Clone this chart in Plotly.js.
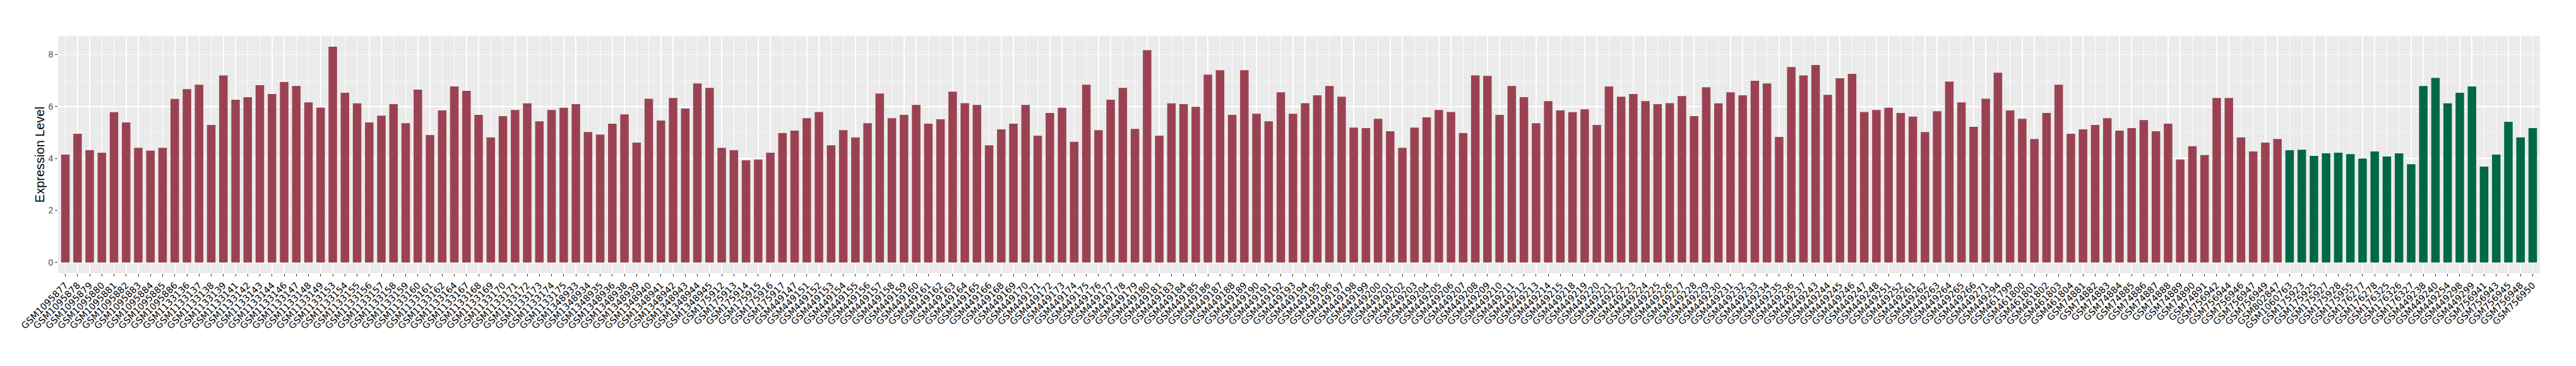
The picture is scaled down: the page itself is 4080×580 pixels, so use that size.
<!DOCTYPE html>
<html>
<head>
<meta charset="utf-8">
<script src="https://cdn.plot.ly/plotly-3.0.1.min.js"></script>
<style>html,body{margin:0;padding:0;background:#fff;}#chart{width:4080px;height:580px;}</style>
</head>
<body>
<div id="chart"></div>
<script>
// Tumor samples (red)
const tumorSamples = [
"GSM1095877","GSM1095878","GSM1095879","GSM1095880","GSM1095881","GSM1095882","GSM1095883","GSM1095884","GSM1095885","GSM1095886",
"GSM1133136","GSM1133137","GSM1133138","GSM1133139","GSM1133141","GSM1133142","GSM1133143","GSM1133144","GSM1133146","GSM1133147",
"GSM1133148","GSM1133149","GSM1133153","GSM1133154","GSM1133155","GSM1133156","GSM1133157","GSM1133158","GSM1133159","GSM1133160",
"GSM1133161","GSM1133162","GSM1133164","GSM1133167","GSM1133168","GSM1133169","GSM1133170","GSM1133171","GSM1133172","GSM1133173",
"GSM1133174","GSM1133175",
"GSM1348933","GSM1348934","GSM1348935","GSM1348936","GSM1348938","GSM1348939","GSM1348940","GSM1348941","GSM1348942","GSM1348943",
"GSM1348944","GSM1348945",
"GSM175912","GSM175913","GSM175914","GSM175915","GSM175916","GSM175917",
"GSM449147","GSM449151","GSM449152","GSM449153","GSM449154","GSM449155","GSM449156","GSM449157","GSM449158","GSM449159",
"GSM449160","GSM449161","GSM449162","GSM449163","GSM449164","GSM449165","GSM449166","GSM449168","GSM449169","GSM449170",
"GSM449171","GSM449172","GSM449173","GSM449174","GSM449175","GSM449176","GSM449177","GSM449178","GSM449179","GSM449180",
"GSM449181","GSM449183","GSM449184","GSM449185","GSM449186","GSM449187","GSM449188","GSM449189","GSM449190","GSM449191",
"GSM449192","GSM449193","GSM449194","GSM449195","GSM449196","GSM449197","GSM449198","GSM449199","GSM449200","GSM449201",
"GSM449202","GSM449203","GSM449204","GSM449205","GSM449206","GSM449207","GSM449208","GSM449209","GSM449210","GSM449211",
"GSM449212","GSM449213","GSM449214","GSM449215","GSM449218","GSM449219","GSM449220","GSM449221","GSM449222","GSM449223",
"GSM449224","GSM449225","GSM449226","GSM449227","GSM449228","GSM449229","GSM449230","GSM449231","GSM449232","GSM449233",
"GSM449234","GSM449235","GSM449236","GSM449237","GSM449243","GSM449244","GSM449245","GSM449246","GSM449247","GSM449248",
"GSM449251","GSM449252","GSM449261","GSM449262","GSM449263","GSM449264","GSM449265","GSM449266","GSM449271","GSM449294",
"GSM461799","GSM461800","GSM461801","GSM461802","GSM461803","GSM461804",
"GSM74881","GSM74882","GSM74883","GSM74884","GSM74885","GSM74886","GSM74887","GSM74888","GSM74889","GSM74890","GSM74891",
"GSM756942","GSM756944","GSM756946","GSM756947","GSM756949","GSM802847"
];
const tumorValues = [
4.15,4.95,4.32,4.22,5.78,5.39,4.41,4.30,4.41,6.29,
6.67,6.84,5.29,7.20,6.26,6.36,6.82,6.48,6.94,6.79,
6.16,5.96,8.30,6.53,6.12,5.39,5.65,6.09,5.36,6.65,
4.90,5.85,6.77,6.60,5.68,4.81,5.63,5.87,6.12,5.43,
5.87,5.95,
6.09,5.02,4.92,5.34,5.70,4.61,6.30,5.46,6.33,5.92,
6.89,6.72,
4.41,4.32,3.93,3.96,4.22,4.98,
5.07,5.55,5.79,4.51,5.09,4.81,5.36,6.50,5.55,5.68,
6.06,5.34,5.51,6.57,6.13,6.06,4.51,5.12,5.34,6.06,
4.88,5.75,5.95,4.64,6.84,5.09,6.26,6.72,5.14,8.17,
4.88,6.12,6.09,5.99,7.23,7.40,5.68,7.40,5.72,5.43,
6.55,5.72,6.13,6.43,6.79,6.38,5.19,5.17,5.53,5.05,
4.41,5.19,5.58,5.87,5.79,4.98,7.20,7.18,5.68,6.79,
6.36,5.36,6.21,5.85,5.78,5.89,5.29,6.77,6.38,6.48,
6.21,6.09,6.13,6.40,5.63,6.74,6.12,6.55,6.43,6.99,
6.89,4.83,7.52,7.20,7.60,6.45,7.09,7.26,5.79,5.87,
5.95,5.75,5.61,5.02,5.82,6.96,6.16,5.22,6.30,7.30,
5.85,5.53,4.75,5.75,6.84,4.95,
5.12,5.29,5.55,5.07,5.17,5.48,5.05,5.34,3.96,4.47,4.13,
6.33,6.33,4.81,4.27,4.61,4.75
];
// Normal samples (green)
const normalSamples = [
"GSM1060763","GSM175923","GSM175925","GSM175927","GSM175928","GSM175955","GSM176277","GSM176278","GSM176325","GSM176326",
"GSM176327","GSM449238","GSM449240","GSM449254","GSM449298","GSM449299","GSM756941","GSM756943","GSM756945","GSM756948",
"GSM756950"
];
const normalValues = [
4.32,4.34,4.10,4.20,4.22,4.17,4.00,4.27,4.08,4.20,
3.78,6.79,7.10,6.12,6.53,6.77,3.69,4.15,5.41,4.81,
5.17
];
const yTickVals = [0,2,4,6,8];
const yTickText = ["0","2","4","6","8"];

const allSamples = tumorSamples.concat(normalSamples);
const nCat = allSamples.length;

const traces = [
  {type:'bar', x: tumorSamples, y: tumorValues, marker:{color:'#9B4252'}, width:0.7, hoverinfo:'x+y', showlegend:false},
  {type:'bar', x: normalSamples, y: normalValues, marker:{color:'#006847'}, width:0.7, hoverinfo:'x+y', showlegend:false}
];
const ymax = Math.max(...tumorValues, ...normalValues);
const layout = {
  width:4080, height:580,
  margin:{l:92.4, r:57, t:56.7, b:146.7},
  paper_bgcolor:'#ffffff', plot_bgcolor:'#EBEBEB',
  barmode:'overlay',
  showlegend:false,
  xaxis:{
    type:'category', categoryorder:'array', categoryarray: allSamples,
    range:[-0.6, nCat-1+0.6], autorange:false,
    tickmode:'linear', tick0:0, dtick:1,
    tickangle:-45,
    tickfont:{family:'"DejaVu Sans", sans-serif', size:14.5, color:'#000000'},
    ticks:'outside', ticklen:4, tickwidth:1, tickcolor:'#333333',
    showgrid:true, gridcolor:'#ffffff', gridwidth:1.4,
    zeroline:false, showline:false, automargin:false, fixedrange:true
  },
  yaxis:{
    range:[-0.05*ymax, ymax*1.05], autorange:false,
    tickmode:'array', tickvals:yTickVals, ticktext:yTickText,
    tickfont:{family:'"Liberation Sans", Arial, sans-serif', size:14, color:'#4D4D4D'},
    ticks:'outside', ticklen:4, tickwidth:1, tickcolor:'#333333',
    showgrid:true, gridcolor:'#ffffff', gridwidth:1.6,
    minor:{dtick:1, tick0:0, showgrid:true, gridcolor:'#F6F6F6', gridwidth:0.8},
    zeroline:false, showline:false, automargin:false, fixedrange:true,
    title:{text:'Expression Level', font:{family:'"Liberation Sans", Arial, sans-serif', size:20, color:'#000000'}, standoff:0}
  },
  font:{family:'"Liberation Sans", Arial, sans-serif'}
};
Plotly.newPlot('chart', traces, layout, {staticPlot:true, displayModeBar:false});
</script>
</body>
</html>
